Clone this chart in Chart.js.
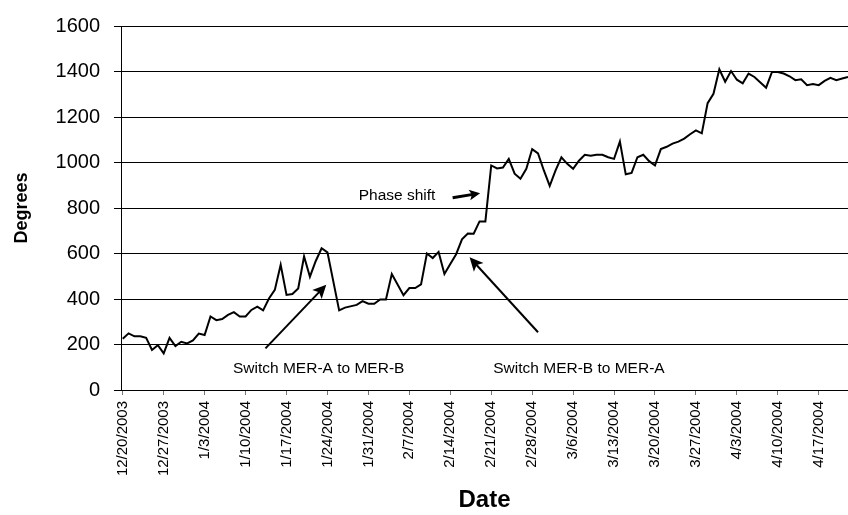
<!DOCTYPE html>
<html>
<head>
<meta charset="utf-8">
<script src="https://cdn.jsdelivr.net/npm/chart.js@4.4.1/dist/chart.umd.min.js"></script>
<style>
  html, body { margin: 0; padding: 0; background: #fff; }
  canvas { display: block; }
</style>
</head>
<body>
<canvas id="chart" width="848" height="515"></canvas>
<script>
// one value per day starting 12/20/2003, null = no reading that day
var degrees = [
    225, 249, 236, 236, 229, 176, 197, 161, 229, 193,
    212, 205, 218, 248, 242, 323, 307, 312, 330, 342,
    323, 323, 352, 366, 350, 402, 440, 550, 418, 422,
    446, 587, 498, 567, 623, 605, null, 350, 362, null,
    374, 391, 379, 379, 398, 398, 510, null, 417, 448,
    448, 464, 600, 580, 607, 510, 554, 597, 662, 688,
    687, 741, 741, 987, 974, 978, 1016, 951, 929, 972,
    1059, 1040, 965, 897, 965, 1023, 994, 972, 1008, 1034,
    1030, 1034, 1034, 1023, 1016, 1092, 948, 954, 1023, 1034,
    1006, 987, 1059, 1069, 1083, 1092, 1105, 1124, 1141, 1128,
    1261, 1302, 1410, 1355, 1402, 1364, 1348, 1391, 1376, null,
    1329, 1398, 1398, 1391, 1379, 1362, 1366, 1340, 1345, 1340,
    1359, 1372, 1362, 1369, 1376
];

// weekly tick labels (every 7 days)
var tickLabels = [
    '12/20/2003', '12/27/2003', '1/3/2004', '1/10/2004', '1/17/2004',
    '1/24/2004', '1/31/2004', '2/7/2004', '2/14/2004', '2/21/2004',
    '2/28/2004', '3/6/2004', '3/13/2004', '3/20/2004', '3/27/2004',
    '4/3/2004', '4/10/2004', '4/17/2004'
];

// annotations in data units (day index, degrees)
var notes = [
    { text: 'Switch MER-A to MER-B', x: 33.5, y: 95 },
    { text: 'Switch MER-B to MER-A', x: 78, y: 95 },
    { text: 'Phase shift', x: 46.9, y: 852 }
];
var arrows = [
    { from: [24.4, 183], to: [34.8, 463], width: 2, head: 15 },
    { from: [71.0, 254], to: [59.3, 583], width: 2, head: 15 },
    { from: [56.4, 845], to: [61.1, 865], width: 3, head: 12 }
];

var FONT = '"Liberation Sans", Arial, sans-serif';
Chart.defaults.font.family = FONT;
Chart.defaults.color = '#000';

var points = degrees.map(function (v, i) { return { x: i, y: v }; });

var annotate = {
    id: 'annotate',
    afterDatasetsDraw: function (chart) {
        var ctx = chart.ctx;
        var xs = chart.scales.x, ys = chart.scales.y;
        ctx.save();
        ctx.strokeStyle = '#000';
        ctx.fillStyle = '#000';
        arrows.forEach(function (a) {
            var x1 = xs.getPixelForValue(a.from[0]), y1 = ys.getPixelForValue(a.from[1]);
            var x2 = xs.getPixelForValue(a.to[0]), y2 = ys.getPixelForValue(a.to[1]);
            var ang = Math.atan2(y2 - y1, x2 - x1);
            var bx = x2 - Math.cos(ang) * a.head * 0.6, by = y2 - Math.sin(ang) * a.head * 0.6;
            ctx.lineWidth = a.width;
            ctx.beginPath();
            ctx.moveTo(x1, y1);
            ctx.lineTo(bx, by);
            ctx.stroke();
            ctx.beginPath();
            ctx.moveTo(x2, y2);
            ctx.lineTo(x2 - a.head * Math.cos(ang - 0.45), y2 - a.head * Math.sin(ang - 0.45));
            ctx.lineTo(x2 - a.head * 0.7 * Math.cos(ang), y2 - a.head * 0.7 * Math.sin(ang));
            ctx.lineTo(x2 - a.head * Math.cos(ang + 0.45), y2 - a.head * Math.sin(ang + 0.45));
            ctx.closePath();
            ctx.fill();
        });
        ctx.font = '15.5px ' + FONT;
        ctx.textAlign = 'center';
        ctx.textBaseline = 'middle';
        notes.forEach(function (n) {
            ctx.fillText(n.text, xs.getPixelForValue(n.x), ys.getPixelForValue(n.y));
        });
        ctx.restore();
    }
};

new Chart(document.getElementById('chart'), {
    type: 'line',
    data: {
        datasets: [{
            label: 'Degrees',
            data: points,
            borderColor: '#000',
            borderWidth: 2,
            pointRadius: 0,
            tension: 0,
            spanGaps: true,
            fill: false
        }]
    },
    options: {
        responsive: false,
        animation: false,
        devicePixelRatio: 1,
        layout: { padding: { top: 20, left: 0, right: 0, bottom: 0 } },
        plugins: {
            legend: { display: false },
            tooltip: { enabled: false }
        },
        scales: {
            x: {
                type: 'linear',
                min: -0.3,
                max: 124,
                afterBuildTicks: function (scale) {
                    scale.ticks = tickLabels.map(function (_, i) { return { value: i * 7 }; });
                },
                afterFit: function (scale) { scale.height = 125; },
                ticks: {
                    autoSkip: false,
                    minRotation: 90,
                    maxRotation: 90,
                    padding: 6,
                    font: { size: 15 },
                    color: '#000',
                    callback: function (value, index) { return tickLabels[index]; }
                },
                grid: {
                    drawOnChartArea: false,
                    tickLength: 5,
                    tickColor: '#777'
                },
                border: { color: '#000', width: 1 },
                title: {
                    display: true,
                    text: 'Date',
                    font: { size: 24, weight: 'bold' },
                    color: '#000',
                    padding: { top: 0, bottom: 0 }
                }
            },
            y: {
                min: 0,
                max: 1600,
                afterFit: function (scale) { scale.width = 121; },
                ticks: {
                    stepSize: 200,
                    padding: 14,
                    font: { size: 20 },
                    color: '#000',
                    callback: function (value) { return String(value); }
                },
                grid: {
                    color: '#000',
                    lineWidth: 1,
                    tickLength: 7,
                    tickColor: '#000'
                },
                border: { color: '#000', width: 1 },
                title: {
                    display: true,
                    text: 'Degrees',
                    font: { size: 18, weight: 'bold' },
                    color: '#000',
                    padding: { top: 11, bottom: 0 }
                }
            }
        }
    },
    plugins: [annotate]
});
</script>
</body>
</html>
